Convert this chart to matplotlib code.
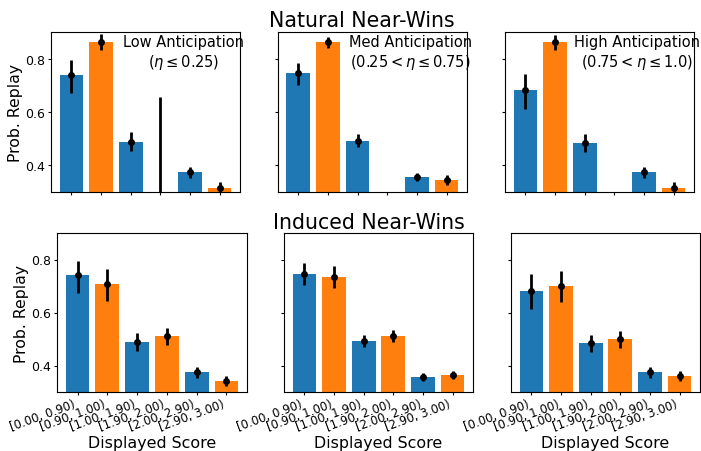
import matplotlib
matplotlib.use("Agg")

import numpy as np
import matplotlib.pyplot as plt

# ================================
# DATA
# ================================
bins = ["[0.00, 0.90)", "[0.90, 1.00)", "[1.00, 1.90)",
        "[1.90, 2.00)", "[2.00, 2.90)", "[2.90, 3.00)"]
colors = ["#1f77b4", "#ff7f0e"] * 3

panel_titles = ["Low Anticipation\n($\\eta \\leq 0.25$)",
                "Med Anticipation\n($0.25 < \\eta \\leq 0.75$)",
                "High Anticipation\n($0.75 < \\eta \\leq 1.0$)"]

# natural near-wins: mean, lower CI, upper CI
nat_low_mean = [0.740, 0.864, 0.487, 0.0, 0.374, 0.314]
nat_low_lo = [0.672, 0.831, 0.455, 0.0, 0.351, 0.290]
nat_low_hi = [0.794, 0.894, 0.524, 0.655, 0.395, 0.339]

nat_med_mean = [0.747, 0.864, 0.491, np.nan, 0.356, 0.344]
nat_med_lo = [0.700, 0.840, 0.468, np.nan, 0.341, 0.325]
nat_med_hi = [0.785, 0.881, 0.516, np.nan, 0.370, 0.362]

nat_high_mean = [0.683, 0.864, 0.484, np.nan, 0.374, 0.314]
nat_high_lo = [0.611, 0.831, 0.450, np.nan, 0.352, 0.290]
nat_high_hi = [0.744, 0.890, 0.516, np.nan, 0.395, 0.337]

# induced near-wins
ind_low_mean = [0.741, 0.706, 0.488, 0.511, 0.375, 0.341]
ind_low_lo = [0.672, 0.644, 0.455, 0.477, 0.352, 0.321]
ind_low_hi = [0.795, 0.763, 0.522, 0.543, 0.394, 0.361]

ind_med_mean = [0.745, 0.733, 0.492, 0.512, 0.356, 0.363]
ind_med_lo = [0.702, 0.692, 0.468, 0.488, 0.342, 0.348]
ind_med_hi = [0.785, 0.774, 0.516, 0.535, 0.372, 0.379]

ind_high_mean = [0.680, 0.699, 0.484, 0.499, 0.375, 0.360]
ind_high_lo = [0.612, 0.638, 0.451, 0.467, 0.353, 0.340]
ind_high_hi = [0.745, 0.756, 0.516, 0.532, 0.396, 0.380]

natural = [(nat_low_mean, nat_low_lo, nat_low_hi),
           (nat_med_mean, nat_med_lo, nat_med_hi),
           (nat_high_mean, nat_high_lo, nat_high_hi)]
induced = [(ind_low_mean, ind_low_lo, ind_low_hi),
           (ind_med_mean, ind_med_lo, ind_med_hi),
           (ind_high_mean, ind_high_lo, ind_high_hi)]

W, H = 701, 452


def px_axes(fig, x0, x1, y0, y1):
    return fig.add_axes([x0 / W, (H - y1) / H, (x1 - x0) / W, (y1 - y0) / H])


def draw_panel(ax, mean, lo, hi):
    x = np.arange(len(bins))
    mean = np.array(mean, dtype=float)
    lo = np.array(lo, dtype=float)
    hi = np.array(hi, dtype=float)
    ax.bar(x, np.nan_to_num(mean), width=0.8, color=colors)
    ax.errorbar(x, mean, yerr=[mean - lo, hi - mean], fmt="o", color="black",
                ms=4, elinewidth=2, capsize=0)
    ax.set_ylim(0.3, 0.9)
    ax.set_yticks([0.4, 0.6, 0.8])
    ax.set_xticks(x)
    ax.tick_params(labelsize=9, length=2.5, pad=1.5)


fig = plt.figure(figsize=(W / 100, H / 100), dpi=100)

top_x = [(51, 240), (277.7, 467), (505, 694)]
bot_x = [(57, 247), (284, 473), (511, 700)]

for i in range(3):
    ax = px_axes(fig, top_x[i][0], top_x[i][1], 33, 193)
    draw_panel(ax, *natural[i])
    ax.set_xticklabels([])
    ax.text(0.70, 0.985, panel_titles[i], transform=ax.transAxes,
            ha="center", va="top", fontsize=10.5, multialignment="center")
    if i == 0:
        ax.set_ylabel("Prob. Replay", fontsize=11.3, labelpad=2)
    else:
        ax.set_yticklabels([])

    ax = px_axes(fig, bot_x[i][0], bot_x[i][1], 234, 393)
    draw_panel(ax, *induced[i])
    ax.set_xticklabels(bins, rotation=20, ha="right", fontsize=8.5)
    ax.set_xlabel("Displayed Score", fontsize=11.4, labelpad=1)
    if i == 0:
        ax.set_ylabel("Prob. Replay", fontsize=11.3, labelpad=2)
    else:
        ax.set_yticklabels([])

fig.text(362 / W, 1 - 20.7 / H, "Natural Near-Wins", ha="center", va="center",
         fontsize=14.8)
fig.text(368.5 / W, 1 - 222.7 / H, "Induced Near-Wins", ha="center", va="center",
         fontsize=14.8)

plt.savefig("out.png", dpi=100)
plt.close()
